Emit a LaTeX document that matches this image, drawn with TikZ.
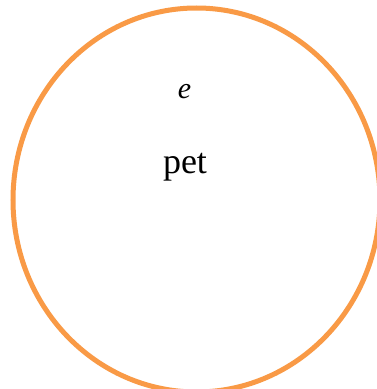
\documentclass[tikz,border=0pt]{standalone}
\usepackage{fontspec}
\setmainfont{Liberation Serif}
\usetikzlibrary{shapes.geometric}
\definecolor{ringorange}{RGB}{249,154,70}
\tikzset{
  ring/.style={draw=ringorange, line width=5pt},
  lbl/.style={anchor=base, inner sep=0pt}
}
\begin{document}
\begin{tikzpicture}[x=1pt,y=1pt]
\useasboundingbox (0,0) rectangle (377,389);
\clip (0,0) rectangle (377,389);
\fill[white] (0,0) rectangle (377,389);
\node[ring, ellipse, minimum width=367pt, minimum height=384pt, inner sep=0pt, fill=none] (ring) at (196.5,189) {};
\node[lbl, font=\fontsize{30}{36}\selectfont\itshape] (e) at (184.5,290) {e};
\node[lbl, font=\fontsize{36}{43}\selectfont] (pet) at (185,215.5) {pet};
\end{tikzpicture}
\end{document}
